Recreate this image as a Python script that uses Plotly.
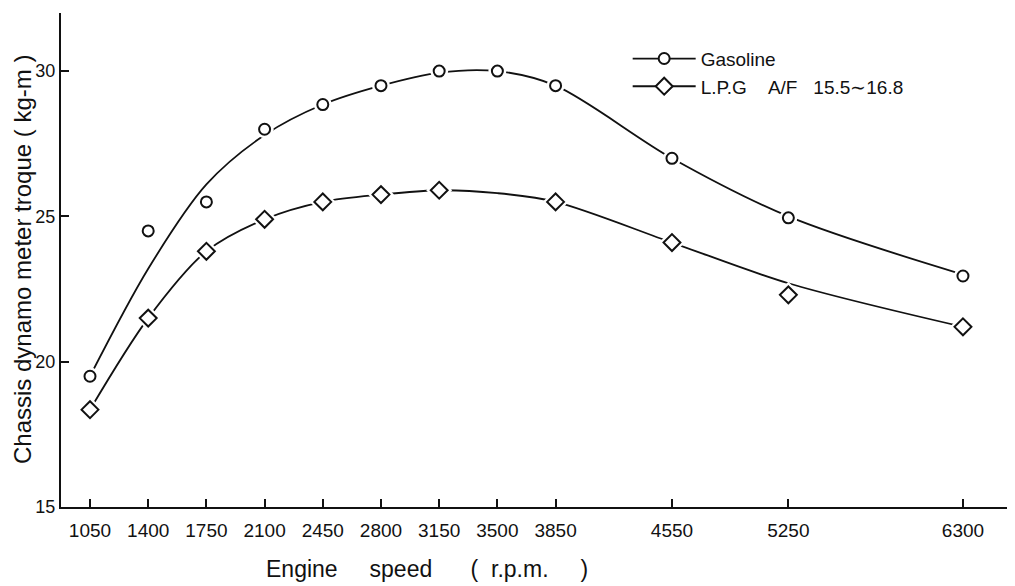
import plotly.graph_objects as go

# ---- data ----
rpm_ticks = [1050, 1400, 1750, 2100, 2450, 2800, 3150, 3500, 3850, 4550, 5250, 6300]
y_ticks = [15, 20, 25, 30]

gas_rpm = [1050, 1400, 1750, 2100, 2450, 2800, 3150, 3500, 3850, 4550, 5250, 6300]
gas_torque = [19.5, 24.5, 25.5, 28.0, 28.85, 29.5, 30.0, 30.0, 29.5, 27.0, 24.95, 22.95]

lpg_rpm = [1050, 1400, 1750, 2100, 2450, 2800, 3150, 3850, 4550, 5250, 6300]
lpg_torque = [18.35, 21.5, 23.8, 24.9, 25.5, 25.75, 25.9, 25.5, 24.1, 22.3, 21.2]

# fitted curves as drawn in the reference
gas_curve_rpm = [1050, 1400, 1750, 2100, 2450, 2800, 3150, 3500, 3850, 4550, 5250, 6300]
gas_curve = [19.5, 23.2, 26.1, 27.8, 28.85, 29.5, 29.95, 30.0, 29.5, 27.0, 25.0, 23.0]

lpg_curve_rpm = [1050, 1400, 1750, 2100, 2450, 2800, 3150, 3500, 3850, 4550, 5250, 6300]
lpg_curve = [18.35, 21.5, 23.8, 24.9, 25.5, 25.75, 25.9, 25.8, 25.5, 24.1, 22.7, 21.2]

NB = "\u00a0"
series_names = ["Gasoline", "L.P.G" + NB * 4 + "A/F" + NB * 3 + "15.5\u223c16.8"]

BLACK = "#111111"
fig = go.Figure()

# curves
for cx, cy in [(gas_curve_rpm, gas_curve), (lpg_curve_rpm, lpg_curve)]:
    fig.add_trace(go.Scatter(x=cx, y=cy, mode="lines",
                             line=dict(color=BLACK, width=1.8, shape="spline", smoothing=0.9),
                             showlegend=False, hoverinfo="skip"))
# white masks for line gaps around markers
fig.add_trace(go.Scatter(x=gas_rpm, y=gas_torque, mode="markers",
                         marker=dict(symbol="circle", size=18, color="white", line=dict(width=0)),
                         showlegend=False, hoverinfo="skip"))
fig.add_trace(go.Scatter(x=lpg_rpm, y=lpg_torque, mode="markers",
                         marker=dict(symbol="diamond", size=20, color="white", line=dict(width=0)),
                         showlegend=False, hoverinfo="skip"))
# markers
fig.add_trace(go.Scatter(x=gas_rpm, y=gas_torque, mode="markers",
                         marker=dict(symbol="circle", size=11, color="white",
                                     line=dict(color=BLACK, width=2)),
                         showlegend=False))
fig.add_trace(go.Scatter(x=lpg_rpm, y=lpg_torque, mode="markers",
                         marker=dict(symbol="diamond", size=13, color="white",
                                     line=dict(color=BLACK, width=2)),
                         showlegend=False))
# legend entries
fig.add_trace(go.Scatter(x=[None], y=[None], mode="lines+markers", name=series_names[0],
                         line=dict(color=BLACK, width=1.8),
                         marker=dict(symbol="circle", size=11, color="white",
                                     line=dict(color=BLACK, width=2))))
fig.add_trace(go.Scatter(x=[None], y=[None], mode="lines+markers", name=series_names[1],
                         line=dict(color=BLACK, width=1.8),
                         marker=dict(symbol="diamond", size=13, color="white",
                                     line=dict(color=BLACK, width=2))))

FONT = "Liberation Sans, Arial, sans-serif"
TICKFONT = dict(family=FONT, size=19, color=BLACK)

# the page body has an 8px margin, so the figure is sized/offset to compensate
fig.update_layout(
    width=1007, height=578,
    margin=dict(l=53, r=0, t=5, b=79, autoexpand=False),
    paper_bgcolor="white", plot_bgcolor="white",
    showlegend=True,
    legend=dict(x=0.594, y=0.946, xanchor="left", yanchor="top",
                bgcolor="rgba(0,0,0,0)", borderwidth=0,
                font=dict(family=FONT, size=19, color=BLACK),
                itemwidth=63, tracegroupgap=0),
    xaxis=dict(range=[875.6, 6613], tickmode="array", tickvals=rpm_ticks,
               ticktext=[str(v) for v in rpm_ticks], automargin=False,
               showgrid=False, zeroline=False, showline=True, linecolor=BLACK, linewidth=2,
               ticks="inside", ticklen=8, tickwidth=1.5, tickcolor=BLACK,
               tickfont=TICKFONT, ticklabelstandoff=5),
    yaxis=dict(range=[15, 32], tickmode="array", tickvals=y_ticks, automargin=False,
               showgrid=False, zeroline=False, showline=True, linecolor=BLACK, linewidth=2,
               ticks="inside", ticklen=8, tickwidth=1.5, tickcolor=BLACK,
               tickfont=dict(family=FONT, size=18, color=BLACK), ticklabelstandoff=0),
    annotations=[
        dict(text="Chassis dynamo meter troque" + NB + "(" + NB + "kg-m" + NB + ")",
             textangle=-90,
             xref="paper", yref="paper", x=0, y=0.5, xshift=-39, showarrow=False,
             xanchor="center", yanchor="middle",
             font=dict(family=FONT, size=24, color=BLACK)),
        dict(text="Engine" + NB * 5 + "speed" + NB * 6 + "(" + NB * 2 + "r.p.m." + NB * 5 + ")",
             xref="paper", yref="paper", x=(427 - 61) / 954, y=0, yshift=-62, showarrow=False,
             xanchor="center", yanchor="middle",
             font=dict(family=FONT, size=23, color=BLACK)),
    ],
)

fig.write_html("out.html")
